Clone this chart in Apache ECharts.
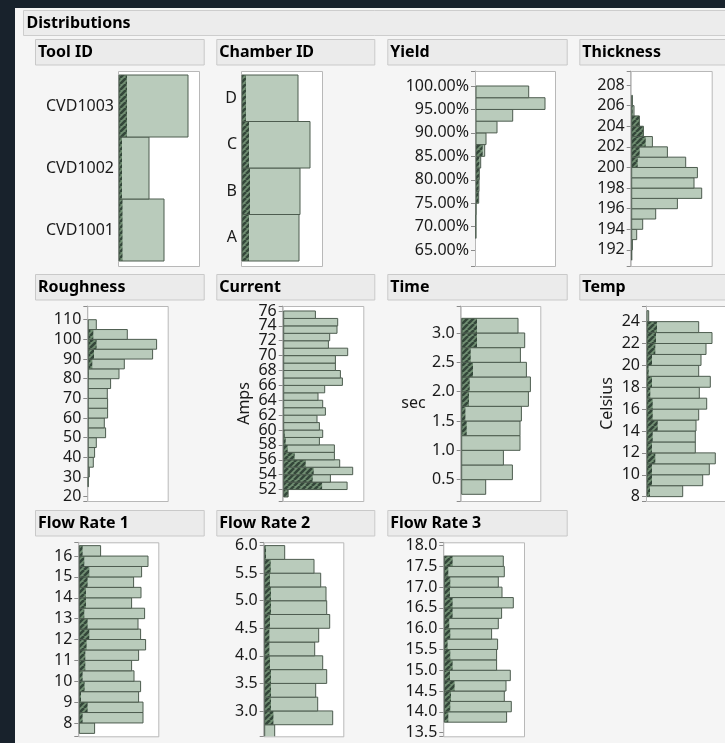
<!DOCTYPE html>
<html><head><meta charset="utf-8">
<script src="https://cdn.jsdelivr.net/npm/echarts@6/dist/echarts.min.js"></script>
<style>html,body{margin:0;padding:0;background:#18222c;}#c{width:725px;height:743px;}</style>
</head><body><div id="c"></div>
<script>
// ---------------- DATA ----------------
const toolCats = ['CVD1001','CVD1002','CVD1003'];
const toolCounts = [46, 31, 70];
const toolSel = [4.5, 4, 9];

const chamberCats = ['A','B','C','D'];
const chamberCounts = [58, 59, 69, 57];
const chamberSel = [8, 9, 8, 5];

const yieldLo = [67.5,70,72.5,75,77.5,80,82.5,85,87.5,90,92.5,95,97.5];
const yieldCounts = [0.7,0.7,1,3.7,4,4.3,5.7,9.7,11,22,37.7,70,53.7];
const yieldSel = [0,0,0,3.3,3.7,4,4.5,7.7,0,0,0,0,0];
const yieldTicks = [65,70,75,80,85,90,95,100];

const thickLo = [191,192,193,194,195,196,197,198,199,200,201,202,203,204,205,206];
const thickCounts = [1,1.7,6,12,25,46.7,71,63.3,66.7,55,36.7,21.7,12.7,8.7,3.3,1.7];
const thickSel = [0,0,0,0,0,0,0,0,1,7,9,15,12.7,8.7,2,0];
const thickTicks = [192,194,196,198,200,202,204,206,208];

const roughLo = [25,30,35,40,45,50,55,60,65,70,75,80,85,90,95,100,105];
const roughCounts = [0.7,2,6,7.3,9,18.3,17,20.3,20.3,20,23.3,31.7,37,65.3,69.3,40,9];
const roughSel = [0,0,0,1,0,0,1,1,1,1,1,1.5,5,6.7,9.3,6,0];
const roughTicks = [20,30,40,50,60,70,80,90,100,110];

const currLo = [51,52,53,54,55,56,57,58,59,60,61,62,63,64,65,66,67,68,69,70,71,72,73,74,75];
const currCounts = [5.4,64.4,47.7,70,57,51.7,51.7,36.7,40,36.7,34.3,42.7,40,35.3,42,59.7,57.7,52.7,52.7,65,45.7,47,54.3,55,32.7];
const currSel = [5.4,39.4,30,31,23,12,5,3,2,1,0,0,0,0,0,0,0,0,0,0,0,0,0,0,0];
const currTicks = [52,54,56,58,60,62,64,66,68,70,72,74,76];

const timeLo = [0.25,0.5,0.75,1.0,1.25,1.5,1.75,2.0,2.25,2.5,2.75,3.0];
const timeCounts = [25,51.7,42.7,59.3,59.3,60.7,67.7,69.7,65.7,59.7,64,57.3];
const timeSel = [0,1,1,1,6,4.7,8.3,9,12.3,10,16.3,16.3];
const timeTicks = [0.5,1.0,1.5,2.0,2.5,3.0];

const tempLo = [8,9,10,11,12,13,14,15,16,17,18,19,20,21,22,23,24];
const tempCounts = [36.7,56.7,63.3,69.3,49.3,49.3,50,52.7,60.7,53.3,64.3,52.7,55,60,66,52.7,2.7];
const tempSel = [4,6,6,9.3,6,6.7,11.7,6.7,6.7,4.3,6,2.7,6,9.3,10,11,0];
const tempTicks = [8,10,12,14,16,18,20,22,24];

const flow1Lo = [7.5,8,8.5,9,9.5,10,10.5,11,11.5,12,12.5,13,13.5,14,14.5,15,15.5,16];
const flow1Counts = [16.3,64.7,64.7,60.3,62.3,55.7,53.3,60.3,67.3,62.3,59.7,66.3,53.3,62.7,55.3,63.3,69.7,22.3];
const flow1Sel = [0,4.3,9.3,2.7,6.3,4.3,7,7,8.3,11,9.3,6,7.7,7.7,9.3,11,6,4.3];
const flow1Ticks = [8,9,10,11,12,13,14,15,16];

const flow2Lo = [2.5,2.75,3.0,3.25,3.5,3.75,4.0,4.25,4.5,4.75,5.0,5.25,5.5,5.75];
const flow2Counts = [11,69,54,52,63,59,51,55,66,63,62.3,57,50.3,21];
const flow2Sel = [0,9.7,7.3,7.3,7.3,6.3,5.7,5.7,6.3,7.3,7.3,6.3,7,2.3];
const flow2Ticks = [3.0,3.5,4.0,4.5,5.0,5.5,6.0];

const flow3Lo = [13.75,14.0,14.25,14.5,14.75,15.0,15.25,15.5,15.75,16.0,16.25,16.5,16.75,17.0,17.25,17.5];
const flow3Counts = [63.3,68,61,62.7,67,53.3,53.3,54.3,48.3,55,58.3,70,58.7,55,61,60];
const flow3Sel = [5,7,7.7,11.3,6.7,9.3,7,4.3,7,6,9.3,9.3,6.7,7,5,9.3];
const flow3Ticks = [13.5,14.0,14.5,15.0,15.5,16.0,16.5,17.0,17.5,18.0];

// ---------------- LAYOUT / STYLE ----------------
const FONT = '"Noto Sans", sans-serif';
const LIGHT = '#b9cbbb', EDGE = '#4d5c4f';
const pc = document.createElement('canvas'); pc.width = 6; pc.height = 6;
(function(){const g = pc.getContext('2d'); g.fillStyle = '#718f73'; g.fillRect(0,0,6,6);
  g.strokeStyle = '#34473a'; g.lineWidth = 2.6; g.beginPath();
  for (let k = -6; k <= 12; k += 6) { g.moveTo(k, 6); g.lineTo(k + 6, 0); } g.stroke();})();
const HATCH = {image: pc, repeat: 'repeat'};

const COLS = [[35,168.7],[216.3,158],[387.3,179.4],[579.3,170]];
const ROWS = [39,274,510];
const HEAD_H = 25.5;

const panels = [
  {title:'Tool ID', col:0, row:0, frame:[118,71,81,195], bars:[75,186], cats:toolCats, counts:toolCounts, sel:toolSel},
  {title:'Chamber ID', col:1, row:0, frame:[241,71,81,195], bars:[75,186], cats:chamberCats, counts:chamberCounts, sel:chamberSel},
  {title:'Yield', col:2, row:0, frame:[475,71,80,195], lo:yieldLo, w:2.5, counts:yieldCounts, sel:yieldSel, ticks:yieldTicks, step:5, range:[61.6,103.2], fmt:v=>v.toFixed(2)+'%'},
  {title:'Thickness', col:3, row:0, frame:[630.7,71,81,195], lo:thickLo, w:1, counts:thickCounts, sel:thickSel, ticks:thickTicks, step:2, range:[190.44,209.36], fmt:v=>v.toFixed(0)},
  {title:'Roughness', col:0, row:1, frame:[87.3,306,80.4,195], lo:roughLo, w:5, counts:roughCounts, sel:roughSel, ticks:roughTicks, step:10, range:[17.8,116.97], fmt:v=>v.toFixed(0)},
  {title:'Current', col:1, row:1, frame:[282.7,306,80.6,195], lo:currLo, w:1, counts:currCounts, sel:currSel, ticks:currTicks, step:2, range:[50.46,76.67], fmt:v=>v.toFixed(0), name:'Amps', nameRotate:90, nameGap:30},
  {title:'Time', col:2, row:1, frame:[460.7,306,79.6,195], lo:timeLo, w:0.25, counts:timeCounts, sel:timeSel, ticks:timeTicks, step:0.5, range:[0.136,3.46], fmt:v=>v.toFixed(1), name:'sec', nameRotate:0, nameGap:35},
  {title:'Temp', col:3, row:1, frame:[646,306,81,195], lo:tempLo, w:1, counts:tempCounts, sel:tempSel, ticks:tempTicks, step:2, range:[7.6,25.43], fmt:v=>v.toFixed(0), name:'Celsius', nameRotate:90, nameGap:31},
  {title:'Flow Rate 1', col:0, row:2, frame:[78.3,542.3,80,194], lo:flow1Lo, w:0.5, counts:flow1Counts, sel:flow1Sel, ticks:flow1Ticks, step:1, range:[7.36,16.66], fmt:v=>v.toFixed(0)},
  {title:'Flow Rate 2', col:1, row:2, frame:[263.7,542.3,79.6,194], lo:flow2Lo, w:0.25, counts:flow2Counts, sel:flow2Sel, ticks:flow2Ticks, step:0.5, range:[2.54,6.06], fmt:v=>v.toFixed(1)},
  {title:'Flow Rate 3', col:2, row:2, frame:[443.3,542.3,80.7,194], lo:flow3Lo, w:0.25, counts:flow3Counts, sel:flow3Sel, ticks:flow3Ticks, step:0.5, range:[13.41,18.08], fmt:v=>v.toFixed(1)}
];

function barShapes(api, x0, yTop, x1, xs, yBot) {
  const h = yBot - yTop;
  const kids = [{type:'rect', shape:{x:x0, y:yTop, width:x1 - x0, height:h}, style:{fill:LIGHT, stroke:null}}];
  if (xs - x0 > 0.2) kids.push({type:'rect', shape:{x:x0, y:yTop, width:xs - x0, height:h}, style:{fill:HATCH, stroke:null}});
  kids.push({type:'rect', shape:{x:x0, y:yTop, width:x1 - x0, height:h}, style:{fill:null, stroke:EDGE, lineWidth:1}});
  return {type:'group', children:kids};
}

const grids = [], xAxes = [], yAxes = [], series = [];
const gfx = [
  {type:'rect', shape:{x:15, y:8, width:720, height:745}, style:{fill:'#f5f5f5'}, z:-5},
  {type:'rect', shape:{x:23.5, y:10.5, width:720, height:25}, style:{fill:'#ececec', stroke:'#cdcdcd', lineWidth:1}, z:-4},
  {type:'text', x:26.5, y:23.5, style:{text:'Distributions', font:'bold 16px ' + FONT, fill:'#000', verticalAlign:'middle'}, z:-3}
];

panels.forEach((p, i) => {
  const [fx, fy, fw, fh] = p.frame;
  const [hx, hw] = COLS[p.col];
  const hy = ROWS[p.row];
  gfx.push({type:'rect', shape:{x:hx + 0.5, y:hy + 0.5, width:hw, height:HEAD_H}, style:{fill:'#ebebeb', stroke:'#c9c9c9', lineWidth:1}, z:-4});
  gfx.push({type:'text', x:hx + 3, y:hy + HEAD_H / 2 + 1, style:{text:p.title, font:'bold 16px ' + FONT, fill:'#000', verticalAlign:'middle'}, z:-3});
  gfx.push({type:'rect', shape:{x:fx + 0.5, y:fy + 0.5, width:fw, height:fh}, style:{fill:'#ffffff', stroke:'#b8b8b8', lineWidth:1}, z:-2});

  if (p.cats) {
    grids.push({left:fx, top:p.bars[0], width:fw, height:p.bars[1], outerBoundsMode:'none', containLabel:false});
    xAxes.push({gridIndex:i, type:'value', min:0, max:fw, show:false});
    yAxes.push({gridIndex:i, type:'category', data:p.cats, axisLine:{show:false}, axisTick:{show:false}, splitLine:{show:false},
      axisLabel:{fontSize:16, fontFamily:FONT, color:'#1a1a1a', margin:4}});
    series.push({type:'custom', xAxisIndex:i, yAxisIndex:i, silent:true, animation:false, encode:{y:0, x:1},
      data:p.cats.map((c, k) => [k, p.counts[k], p.sel[k]]),
      renderItem:(params, api) => {
        const c = api.coord([0, api.value(0)]);
        const band = api.size([0, 1])[1];
        const e = api.coord([api.value(1), api.value(0)]);
        const s = api.coord([api.value(2), api.value(0)]);
        return barShapes(api, c[0] + 1, c[1] - band / 2, e[0], s[0], c[1] + band / 2);
      }});
  } else {
    const ticks = p.ticks, fmt = p.fmt;
    grids.push({left:fx, top:fy, width:fw, height:fh, outerBoundsMode:'none', containLabel:false});
    xAxes.push({gridIndex:i, type:'value', min:0, max:fw, show:false});
    const ya = {gridIndex:i, type:'value', min:p.range[0], max:p.range[1], minInterval:p.step, maxInterval:p.step,
      axisLine:{show:true, lineStyle:{color:'#b8b8b8'}}, axisTick:{show:true, length:4, lineStyle:{color:'#8a8a8a'}},
      splitLine:{show:false}, minorTick:{show:false},
      axisLabel:{fontSize:16, fontFamily:FONT, color:'#1a1a1a', margin:6, hideOverlap:false,
        formatter:v => ticks.some(t => Math.abs(t - v) < 1e-6) ? fmt(v) : ''}};
    if (p.name) {
      ya.name = p.name; ya.nameLocation = 'middle'; ya.nameRotate = p.nameRotate; ya.nameGap = p.nameGap;
      ya.nameTextStyle = {fontSize:16, fontFamily:FONT, color:'#1a1a1a'};
    }
    yAxes.push(ya);
    series.push({type:'custom', xAxisIndex:i, yAxisIndex:i, silent:true, animation:false, clip:true, encode:{y:[0,1], x:2},
      data:p.lo.map((lo, k) => [lo, lo + p.w, p.counts[k], p.sel[k]]),
      renderItem:(params, api) => {
        const a = api.coord([0, api.value(1)]);
        const b = api.coord([api.value(2), api.value(0)]);
        const s = api.coord([api.value(3), api.value(0)]);
        return barShapes(api, a[0] + 1, a[1], b[0], s[0], b[1]);
      }});
  }
});

const chart = echarts.init(document.getElementById('c'), null, {renderer:'canvas'});
chart.setOption({
  backgroundColor:'#18222c',
  animation:false,
  graphic:{elements:gfx},
  grid:grids, xAxis:xAxes, yAxis:yAxes, series:series
});
</script></body></html>
